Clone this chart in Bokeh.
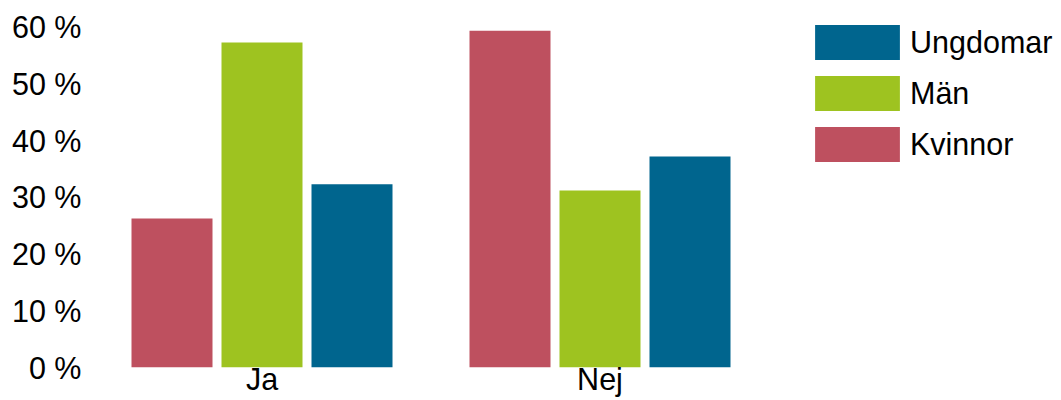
from bokeh.plotting import figure
from bokeh.models import Range1d, FixedTicker, PrintfTickFormatter, Legend, LegendItem, ColumnDataSource
from bokeh.embed import file_html
from bokeh.resources import INLINE

# ---- data ----
groups = ["Ja", "Nej"]
series = ["Kvinnor", "Män", "Ungdomar"]
kvinnor = [26.3, 59.4]
man = [57.3, 31.2]
ungdomar = [32.3, 37.2]
y_ticks = [0, 10, 20, 30, 40, 50, 60]
colors = ["#BE505F", "#9EC320", "#00658E"]

# ---- layout constants ----
PX_PER_GROUP = 338.0
PX_PER_PCT = 5.67
FRAME_W = 960
FRAME_H = 359
LEFT = 93
TOP = 8
FONT = "Liberation Sans"
FSIZE = "30.5px"

bar_w = 81 / PX_PER_GROUP
step = 90 / PX_PER_GROUP
x0 = -(261.5 - LEFT) / PX_PER_GROUP

p = figure(frame_width=FRAME_W, frame_height=FRAME_H,
           x_range=Range1d(x0, x0 + FRAME_W / PX_PER_GROUP),
           y_range=Range1d(0, FRAME_H / PX_PER_PCT),
           output_backend="svg", toolbar_location=None,
           min_border_left=LEFT, min_border_top=TOP, min_border_right=0, min_border_bottom=0)

p.outline_line_color = None
p.xgrid.visible = False
p.ygrid.visible = False
p.background_fill_color = None
p.border_fill_color = "white"

idx = list(range(len(groups)))
renderers = []
for i, (name, vals) in enumerate(zip(series, [kvinnor, man, ungdomar])):
    src = ColumnDataSource(dict(x=[g + (i - 1) * step for g in idx], top=vals))
    r = p.vbar(x="x", top="top", bottom=0, width=bar_w, source=src,
               fill_color=colors[i], line_color=None)
    renderers.append(r)

# axes
p.xaxis.ticker = FixedTicker(ticks=idx)
p.xaxis.major_label_overrides = {i: g for i, g in enumerate(groups)}
p.yaxis.ticker = FixedTicker(ticks=y_ticks)
p.yaxis.formatter = PrintfTickFormatter(format="%d %%")
for ax in (p.xaxis[0], p.yaxis[0]):
    ax.axis_line_color = None
    ax.major_tick_line_color = None
    ax.minor_tick_line_color = None
    ax.major_tick_out = 0
    ax.major_tick_in = 0
    ax.minor_tick_out = 0
    ax.major_label_text_font = FONT
    ax.major_label_text_font_size = FSIZE
    ax.major_label_text_color = "black"
p.yaxis.major_label_standoff = 12
p.xaxis.major_label_standoff = -6

# legend: bar legend glyphs are drawn inset by 10% on each side
GW, GH = 85 / 0.8, 35 / 0.8
legend = Legend(items=[LegendItem(label=series[2], renderers=[renderers[2]]),
                       LegendItem(label=series[1], renderers=[renderers[1]]),
                       LegendItem(label=series[0], renderers=[renderers[0]])],
                location=(711, 201))
legend.glyph_width = int(round(GW))
legend.glyph_height = int(round(GH))
legend.label_standoff = 0
legend.spacing = 7
legend.padding = 0
legend.margin = 0
legend.border_line_color = None
legend.background_fill_alpha = 0
legend.label_text_font = FONT
legend.label_text_font_size = FSIZE
legend.label_text_color = "black"
p.add_layout(legend)

open("out.html", "w").write(file_html(p, INLINE))
